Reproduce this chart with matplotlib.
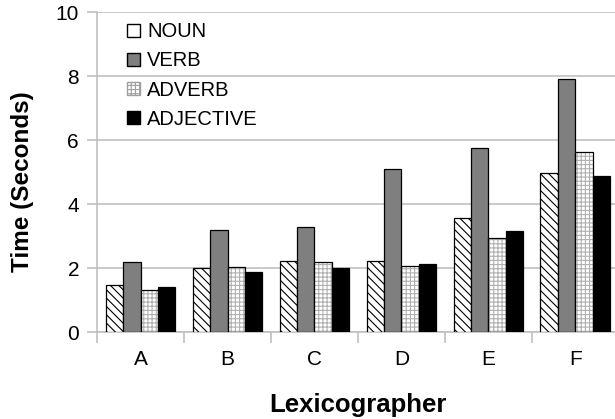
import numpy as np
import matplotlib.pyplot as plt
from matplotlib.patches import Patch

plt.rcParams['font.family'] = ['Liberation Sans', 'DejaVu Sans']
plt.rcParams['hatch.linewidth'] = 0.8

lexicographers = ['A', 'B', 'C', 'D', 'E', 'F']
noun = [1.48, 2.02, 2.23, 2.22, 3.57, 4.97]
verb = [2.20, 3.18, 3.29, 5.11, 5.76, 7.92]
adverb = [1.33, 2.05, 2.20, 2.06, 2.93, 5.62]
adjective = [1.42, 1.88, 2.01, 2.13, 3.17, 4.88]

fig = plt.figure(figsize=(6.15, 4.19), dpi=100)
ax = fig.add_axes([0.158, 0.207, 0.848, 0.764])

x = np.arange(len(lexicographers))
w = 0.2

ax.bar(x - 1.5*w, noun, w, color='white', edgecolor='black', hatch='\\\\\\\\', linewidth=0.9, zorder=3)
ax.bar(x - 0.5*w, verb, w, color='#7f7f7f', edgecolor='black', linewidth=0.9, zorder=3)
ax.bar(x + 0.5*w, adverb, w, color='white', edgecolor='#b0b0b0', hatch='++++', linewidth=0, zorder=3)
ax.bar(x + 0.5*w, adverb, w, color='none', edgecolor='black', linewidth=0.9, zorder=4)
ax.bar(x + 1.5*w, adjective, w, color='black', edgecolor='black', linewidth=0.9, zorder=3)

ax.set_xlim(-0.5, 5.5)
ax.set_ylim(0, 10)
ax.set_yticks([0, 2, 4, 6, 8, 10])
ax.yaxis.grid(True, color='#c0c0c0', linewidth=1.2, zorder=0)
ax.set_xticks(x)
ax.set_xticklabels(lexicographers)
ax.set_xticks(np.arange(-0.5, 6.0, 1.0), minor=True)
ax.tick_params(axis='x', which='major', length=0, pad=13, labelsize=15)
ax.tick_params(axis='x', which='minor', length=8, width=1.2, color='#c0c0c0')
ax.tick_params(axis='y', length=7, width=1.2, color='#c0c0c0', pad=6, labelsize=15)

for s in ['top', 'right']:
    ax.spines[s].set_visible(False)
for s in ['left', 'bottom']:
    ax.spines[s].set_color('#c0c0c0')
    ax.spines[s].set_linewidth(1.2)

ax.set_ylabel('Time (Seconds)', fontsize=17.5, fontweight='bold')
ax.yaxis.set_label_coords(-0.122, 0.47)
ax.set_xlabel('Lexicographer', fontsize=18.5, fontweight='bold', labelpad=17)

handles = [
    Patch(facecolor='white', edgecolor='black', label='NOUN'),
    Patch(facecolor='#7f7f7f', edgecolor='black', label='VERB'),
    Patch(facecolor='white', edgecolor='#a0a0a0', hatch='++++', label='ADVERB'),
    Patch(facecolor='black', edgecolor='black', label='ADJECTIVE'),
]
ax.legend(handles=handles, loc='upper left', bbox_to_anchor=(0.03, 1.012), frameon=False,
          fontsize=14.5, handlelength=0.65, handleheight=0.65, handletextpad=0.35,
          labelspacing=0.5, borderaxespad=0.3)

fig.savefig('out.png', dpi=100)
